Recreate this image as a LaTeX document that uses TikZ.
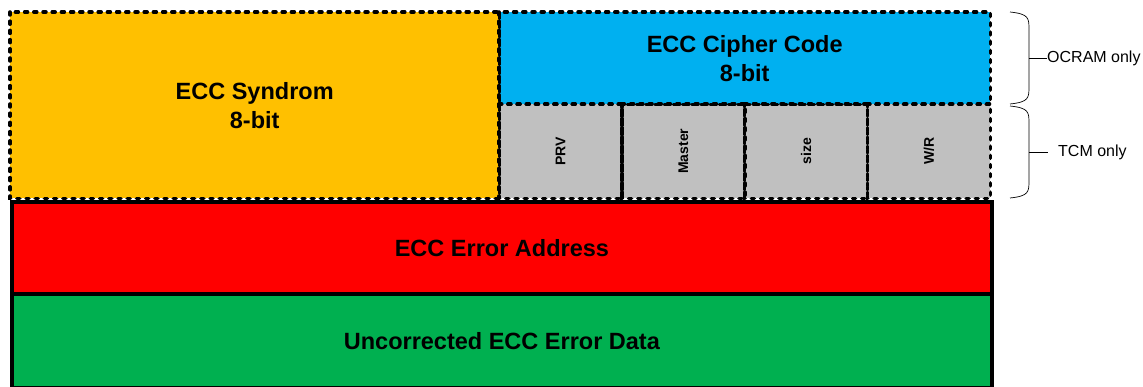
\documentclass[tikz,border=0pt]{standalone}
\usepackage{fontspec}
\setmainfont{Liberation Sans}
\usetikzlibrary{
  calc,
  positioning
}
\definecolor{syndromfill}{RGB}{255,192,0}
\definecolor{cipherfill}{RGB}{0,176,240}
\definecolor{flagfill}{RGB}{192,192,192}
\definecolor{addrfill}{RGB}{255,0,0}
\definecolor{datafill}{RGB}{0,176,80}
\tikzset{
  field/.style={
    anchor=north west,
    inner sep=0pt,
    align=center,
    font=\bfseries\fontsize{23.5}{29}\selectfont
  },
  dash border/.style={
    draw=black,
    line width=3.5pt,
    dash pattern=on 3pt off 6.2pt,
    line cap=round
  },
  solid field/.style={
    field,
    draw=black,
    line width=3.8pt
  },
  flag/.style={
    field,
    fill=flagfill,
    minimum height=94pt,
    font=\bfseries\fontsize{14}{16}\selectfont
  },
  bracket/.style={draw=black,line width=0.7pt},
  sidelabel/.style={font=\fontsize{16}{19}\selectfont,anchor=west,inner sep=0pt}
}

\begin{document}
\begin{tikzpicture}[x=1pt,y=-1pt]
  \useasboundingbox (0,0) rectangle (1143,387);

  % Lower solid fields.
  \node[solid field,fill=datafill,minimum width=980pt,minimum height=94pt] (data) at (10,292)
    {Uncorrected ECC Error Data};
  \node[solid field,fill=addrfill,minimum width=980pt,minimum height=92pt] (addr) at (10,200)
    {ECC Error Address};

  % Upper fields, borders drawn afterwards.
  \node[field,fill=syndromfill,minimum width=489pt,minimum height=186pt] (syn) at (10,12)
    {ECC Syndrom\\8-bit};
  \node[field,fill=cipherfill,minimum width=491pt,minimum height=92pt] (cipher) at (499,12)
    {ECC Cipher Code\\8-bit};
  \foreach \name/\txt [count=\i from 0] in {prv/PRV,master/Master,size/size,wr/{W/R}} {
    \node[flag,minimum width=122.75pt] (\name) at (499+122.75*\i,104)
      {\rotatebox{90}{\txt}};
  }
  \foreach \name in {syn,cipher,prv,master,size,wr} {
    \draw[dash border] (\name.north west) rectangle (\name.south east);
  }

  % Region brackets and labels.
  \foreach \t/\b in {12/104,106/198} {
    \draw[bracket] (1010,\t) .. controls (1029,\t+2) and (1029,\t+6) .. (1029,\t+18)
      -- (1029,\b-18) .. controls (1029,\b-6) and (1029,\b-2) .. (1010,\b);
  }
  \node[sidelabel] (ocram) at (1047,58) {OCRAM only};
  \node[sidelabel] (tcm) at (1058,152) {TCM only};
  \coordinate (ocramtip) at (1029,58);
  \coordinate (tcmtip) at (1029,152);
  \draw[bracket] (ocramtip) -- (ocram.west);
  \draw[bracket] (tcmtip) -- ($(tcm.west)+(-10,0)$);
\end{tikzpicture}
\end{document}
